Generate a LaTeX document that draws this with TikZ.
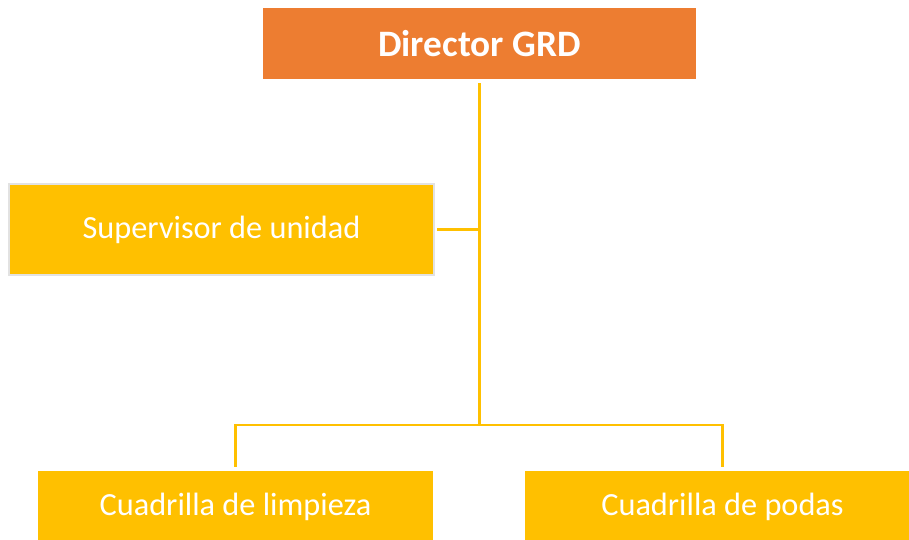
\documentclass[tikz,border=0pt]{standalone}
\usepackage{fontspec}
\setmainfont{Carlito}
\definecolor{gold}{HTML}{FFC000}
\definecolor{orng}{HTML}{ED7D31}
\definecolor{edgegray}{HTML}{E2E2E2}
\begin{document}
\begin{tikzpicture}[x=1pt,y=-1pt,
  box/.style={rectangle, inner sep=0pt, text=white, font=\fontsize{32.3}{36}\selectfont},
  conn/.style={draw=gold, line width=2.4pt}]
\useasboundingbox (0,0) rectangle (909,539);
\node[box, fill=orng, minimum width=433pt, minimum height=71pt,
      font=\bfseries\fontsize{37.3}{40}\selectfont] (dir) at (479.5,43.5) {Director GRD};
\node[box, fill=gold, draw=edgegray, line width=2pt, minimum width=425pt, minimum height=91pt] (sup) at (221.5,229.5) {\raisebox{-2pt}{Supervisor de unidad}};
\node[box, fill=gold, minimum width=395pt, minimum height=72pt] (limp) at (235.5,507) {Cuadrilla de limpieza};
\node[box, fill=gold, minimum width=395pt, minimum height=72pt] (podas) at (722.5,507) {Cuadrilla de podas};
\coordinate (hub) at (479.5,425);
\coordinate (mid) at (479.5,229.5);
\draw[conn] ([yshift=-4pt]dir.south) -- (hub);
\draw[conn] ([xshift=2pt]sup.east) -- (mid);
\draw[conn] ([yshift=4pt]limp.north) |- (hub) -| ([yshift=4pt]podas.north);
\end{tikzpicture}
\end{document}
